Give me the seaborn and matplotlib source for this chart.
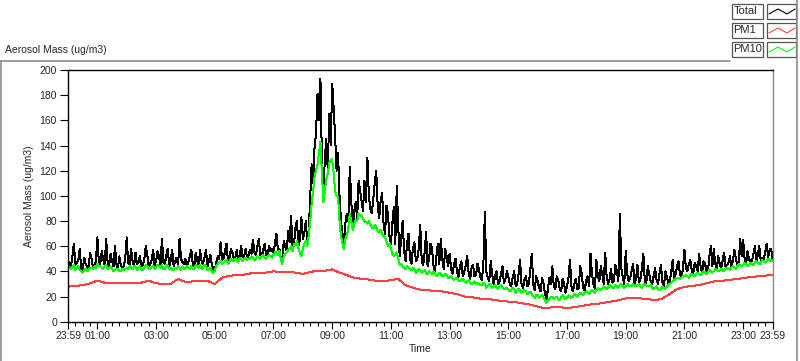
import numpy as np
import pandas as pd
import matplotlib
matplotlib.use("Agg")
import matplotlib.pyplot as plt
import seaborn as sns
from matplotlib.lines import Line2D
from matplotlib.patches import Rectangle

# Total aerosol mass, one value every 3 minutes (23:59 -> 23:59), one row per hour
total = [
    50, 43, 44, 52, 62, 45, 47, 49, 58, 42, 40, 51, 46, 44, 42, 55, 50, 43, 45, 48,
    67, 48, 46, 56, 50, 45, 66, 47, 44, 54, 48, 44, 60, 46, 42, 52, 45, 43, 44, 50,
    67, 47, 45, 58, 48, 44, 55, 46, 47, 52, 44, 45, 50, 60, 53, 44, 46, 49, 57, 45,
    48, 56, 52, 45, 66, 47, 46, 53, 58, 44, 49, 57, 44, 48, 51, 45, 66, 50, 47, 46,
    50, 44, 47, 52, 57, 46, 44, 55, 49, 45, 57, 48, 46, 51, 57, 44, 48, 53, 45, 42,
    41, 47, 52, 50, 63, 49, 50, 56, 62, 48, 49, 58, 55, 50, 51, 57, 48, 52, 60, 51,
    52, 58, 50, 53, 57, 54, 65, 55, 53, 60, 66, 53, 52, 57, 62, 53, 54, 60, 56, 58,
    55, 62, 70, 57, 58, 50, 47, 64, 60, 56, 72, 63, 84, 58, 62, 75, 80, 60, 65, 83,
    66, 70, 80, 64, 72, 98, 125, 110, 139, 150, 181, 160, 193, 128, 100, 130, 145, 120, 165, 140,
    189, 170, 147, 120, 134, 100, 80, 70, 62, 78, 86, 80, 123, 96, 74, 88, 95, 82, 112, 104,
    96, 88, 112, 95, 130, 100, 90, 86, 98, 110, 120, 92, 82, 96, 102, 78, 70, 92, 85, 68,
    62, 78, 91, 62, 108, 75, 52, 66, 80, 56, 48, 62, 70, 50, 46, 58, 63, 48, 50, 58,
    77, 48, 45, 55, 71, 44, 50, 62, 58, 45, 40, 52, 62, 46, 66, 50, 42, 58, 52, 44,
    54, 42, 38, 46, 50, 40, 35, 44, 48, 36, 40, 45, 52, 38, 34, 43, 45, 36, 37, 46,
    42, 35, 33, 45, 87, 40, 35, 32, 48, 38, 30, 36, 40, 30, 32, 38, 44, 31, 34, 40,
    36, 30, 28, 35, 40, 28, 30, 38, 49, 30, 27, 33, 36, 28, 30, 42, 54, 30, 25, 36,
    32, 27, 24, 35, 30, 22, 18, 26, 35, 30, 44, 28, 26, 36, 33, 26, 24, 34, 30, 23,
    28, 35, 49, 28, 24, 30, 34, 26, 27, 44, 38, 27, 25, 32, 36, 28, 54, 38, 30, 26,
    49, 36, 32, 44, 38, 30, 55, 36, 30, 34, 42, 31, 33, 45, 40, 32, 86, 42, 35, 30,
    56, 38, 32, 35, 40, 46, 30, 34, 45, 31, 34, 42, 54, 32, 31, 44, 38, 32, 30, 36,
    43, 33, 30, 38, 45, 31, 28, 40, 36, 30, 32, 40, 49, 33, 38, 44, 48, 37, 36, 42,
    57, 42, 40, 46, 49, 41, 38, 47, 44, 40, 54, 44, 39, 48, 46, 41, 40, 52, 60, 44,
    58, 46, 42, 52, 46, 43, 48, 55, 44, 45, 47, 52, 43, 48, 57, 50, 45, 47, 66, 52,
    65, 50, 46, 56, 50, 47, 48, 54, 60, 48, 53, 60, 48, 51, 49, 55, 62, 51, 57, 58,
    50,
]

# PM10, same 3-minute grid
pm10 = [
    44, 43, 42, 44, 45, 41, 43, 44, 41, 40, 39, 41, 42, 40, 41, 43, 43, 42, 44, 43,
    46, 44, 44, 43, 42, 44, 45, 42, 43, 44, 42, 40, 41, 42, 42, 40, 40, 42, 41, 42,
    43, 42, 44, 43, 42, 44, 44, 41, 43, 44, 42, 41, 43, 45, 44, 42, 42, 43, 44, 42,
    43, 45, 44, 43, 45, 42, 42, 45, 44, 42, 43, 41, 41, 43, 42, 44, 43, 41, 44, 42,
    42, 44, 43, 42, 44, 42, 42, 45, 44, 43, 45, 42, 43, 45, 44, 41, 42, 43, 40, 39,
    40, 44, 46, 47, 48, 46, 47, 48, 49, 46, 48, 50, 49, 48, 50, 49, 47, 51, 50, 48,
    50, 51, 49, 50, 50, 52, 51, 49, 50, 52, 51, 50, 52, 53, 51, 50, 52, 53, 52, 51,
    53, 55, 55, 53, 56, 50, 46, 52, 54, 55, 57, 58, 60, 56, 62, 61, 64, 58, 55, 52,
    58, 62, 64, 60, 68, 80, 94, 104, 115, 120, 125, 134, 143, 118, 95, 104, 113, 118, 126, 128,
    129, 118, 104, 100, 99, 80, 68, 62, 58, 66, 69, 74, 86, 80, 73, 77, 81, 80, 86, 85,
    84, 82, 80, 79, 78, 80, 77, 75, 74, 77, 75, 72, 71, 73, 70, 68, 67, 64, 60, 62,
    58, 54, 52, 53, 55, 50, 45, 46, 44, 43, 42, 44, 43, 42, 41, 43, 42, 39, 40, 42,
    41, 39, 40, 41, 39, 38, 40, 39, 38, 40, 39, 36, 37, 39, 38, 36, 36, 38, 37, 35,
    35, 36, 34, 33, 34, 35, 33, 32, 33, 34, 32, 31, 32, 33, 31, 30, 31, 32, 30, 31,
    30, 29, 29, 31, 30, 27, 28, 30, 29, 27, 28, 29, 27, 26, 28, 29, 27, 26, 26, 27,
    26, 24, 25, 27, 26, 23, 24, 26, 25, 23, 24, 25, 24, 22, 23, 24, 22, 20, 19, 21,
    21, 19, 20, 21, 19, 17, 15, 17, 18, 20, 20, 18, 19, 20, 18, 17, 20, 21, 19, 18,
    19, 21, 20, 19, 20, 22, 21, 20, 22, 23, 22, 21, 23, 24, 23, 22, 24, 25, 24, 23,
    25, 27, 26, 25, 26, 28, 27, 26, 27, 29, 28, 27, 27, 29, 28, 27, 29, 30, 28, 27,
    28, 30, 29, 28, 28, 30, 29, 28, 29, 30, 28, 27, 29, 30, 29, 28, 28, 29, 27, 26,
    27, 28, 26, 25, 26, 28, 27, 26, 28, 29, 30, 31, 32, 33, 34, 35, 35, 34, 35, 36,
    36, 37, 36, 35, 37, 38, 37, 36, 38, 39, 38, 37, 38, 40, 39, 38, 39, 41, 40, 39,
    40, 42, 41, 40, 41, 42, 41, 40, 42, 43, 42, 41, 43, 44, 43, 42, 44, 46, 45, 44,
    45, 47, 46, 44, 45, 47, 46, 45, 47, 48, 47, 46, 46, 49, 48, 47, 48, 50, 49, 48,
    49,
]

# PM1, one value every 15 minutes
pm1 = [
    27.8, 28.5, 29, 30.5,
    32.6, 31, 30.5, 30.5,
    30.5, 30.5, 31, 32.6,
    30.5, 30, 30, 34,
    31.5, 32, 32.5, 32.5,
    30, 35, 36.5, 37,
    37.5, 38.5, 38.5, 39,
    40, 39.5, 39.5, 39,
    38, 39.5, 40.5, 40.5,
    41.5, 39, 37, 35,
    34, 33.5, 32.5, 32,
    33, 34, 29, 27,
    25.5, 25, 24.5, 24,
    23, 22, 20, 19.5,
    18.5, 18, 17.5, 16.5,
    16, 15.5, 14.5, 13.5,
    12, 10.5, 11.5, 11.5,
    11, 11.5, 12.5, 13.6,
    14, 15, 16, 17,
    18.5, 19, 18.5, 18,
    17, 18.5, 22, 26,
    27.5, 28.5, 29, 30.5,
    32, 32.5, 33, 34,
    34.5, 35.5, 36, 36.5,
    37.5,
]

tick_hours = [0, 1, 3, 5, 7, 9, 11, 13, 15, 17, 19, 21, 23, 24]
tick_labels = ["23:59", "01:00", "03:00", "05:00", "07:00", "09:00", "11:00",
               "13:00", "15:00", "17:00", "19:00", "21:00", "23:00", "23:59"]
series_names = ["Total", "PM1", "PM10"]
series_colors = ["#000000", "#ff4040", "#00ff00"]

df_fast = pd.DataFrame({"hour": np.linspace(0, 24, len(total)),
                        "Total": total, "PM10": pm10})
df_pm1 = pd.DataFrame({"hour": np.linspace(0, 24, len(pm1)), "PM1": pm1})

sns.set_style("white")
plt.rcParams["font.family"] = ["Liberation Sans", "DejaVu Sans"]
plt.rcParams["font.size"] = 7.5

fig = plt.figure(figsize=(8, 3.61), dpi=100)
ax = fig.add_axes([68 / 800, 39.3 / 361, 704.5 / 800, 251.7 / 361])

# LabVIEW draws crisp one-pixel traces, so no antialiasing
sns.lineplot(data=df_fast, x="hour", y="Total", ax=ax, color=series_colors[0],
             linewidth=0.72, estimator=None, sort=False, antialiased=False)
sns.lineplot(data=df_pm1, x="hour", y="PM1", ax=ax, color=series_colors[1],
             linewidth=0.72, estimator=None, sort=False, antialiased=False)
sns.lineplot(data=df_fast, x="hour", y="PM10", ax=ax, color=series_colors[2],
             linewidth=0.72, estimator=None, sort=False, antialiased=False)

ax.set_xlim(0, 24)
ax.set_ylim(0, 200)
ax.set_yticks(range(0, 201, 20))
ax.set_xticks(tick_hours)
ax.set_xticklabels(tick_labels)
ax.set_xticks(np.arange(0, 24.01, 0.25), minor=True)
ax.tick_params(axis="x", which="major", length=5, width=0.8, pad=2, labelsize=7.5)
ax.tick_params(axis="x", which="minor", length=3, width=0.8)
ax.tick_params(axis="y", which="major", length=6, width=0.8, pad=2, labelsize=7.5)
ax.tick_params(bottom=True, left=True, which="both", color="black")
ax.set_xlabel("Time", fontsize=7.5, labelpad=2)
ax.set_ylabel("Aerosol Mass (ug/m3)", fontsize=7.5, labelpad=4)
for side in ["top", "left", "bottom"]:
    ax.spines[side].set_color("black")
    ax.spines[side].set_linewidth(1)
ax.spines["right"].set_color("#888888")
ax.spines["right"].set_linewidth(1)

fig.text(5 / 800, 1 - 50 / 361, "Aerosol Mass (ug/m3)", fontsize=7.5, va="center")

# outer panel frame
gray = "#8c8c8c"
fig.add_artist(Line2D([0, 730 / 800], [1 - 61 / 361] * 2, color=gray, lw=1.2))
fig.add_artist(Line2D([1 / 800] * 2, [0, 1 - 61 / 361], color=gray, lw=1.2))
fig.add_artist(Line2D([797 / 800] * 2, [0, 1], color=gray, lw=1.2))

# legend boxes (LabVIEW style)
for i, (name, col) in enumerate(zip(series_names, series_colors)):
    top = 4 + i * 19
    h = 14.5
    y0 = 1 - (top + h) / 361
    fig.add_artist(Rectangle((732 / 800, y0), 31 / 800, h / 361, transform=fig.transFigure,
                             fill=True, facecolor="white", edgecolor="#555555", lw=0.9))
    fig.text(733.5 / 800, 1 - (top + h / 2) / 361, name, fontsize=8, va="center", ha="left")
    fig.add_artist(Rectangle((767 / 800, y0), 29 / 800, h / 361, transform=fig.transFigure,
                             fill=True, facecolor="white", edgecolor="#555555", lw=0.9))
    zx = [769, 778, 787, 795]
    zy = [top + 10, top + 5, top + 10, top + 5]
    fig.add_artist(Line2D([v / 800 for v in zx], [1 - v / 361 for v in zy], color=col, lw=0.8))

fig.savefig("out.png", dpi=100)
plt.close(fig)
